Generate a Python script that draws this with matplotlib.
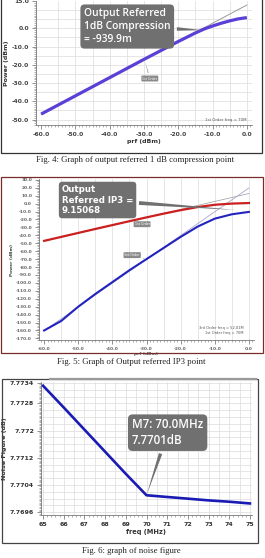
import matplotlib
matplotlib.use("Agg")
import matplotlib.pyplot as plt
from matplotlib.patches import Rectangle
from matplotlib.lines import Line2D
from matplotlib.ticker import MultipleLocator, FixedLocator, FixedFormatter

W, H = 265, 558

# Fig. 4 - output referred 1 dB compression
p1_prf = [-60, -55, -50, -45, -40, -35, -30, -25, -20, -15, -12.5, -10, -7.5, -5, -2.5, 0]
p1_out = [-47, -42, -37, -32, -27, -22, -17, -12.1, -7.2, -2.5, -0.4, 1.3, 2.8, 4.1, 5.2, 5.9]
p1_lin_prf = [-60, 0]
p1_lin_out = [-47.2, 12.8]
p1_yticks = [15, 0, -10, -20, -30, -40, -50]
p1_xticks = [-60, -50, -40, -30, -20, -10, 0]

# Fig. 5 - output referred IP3
p2_prf = [-60, -55, -50, -45, -40, -35, -30, -25, -20, -15, -10, -5, 0]
p2_fund = [-47, -42, -37, -32, -27.1, -22.2, -17.4, -12.7, -8.3, -4.4, -1.5, 0.0, 0.7]
p2_im3 = [-160, -148, -130, -114, -99, -84, -70, -56, -42, -29, -19, -13.5, -10.5]
p2_ext_prf = [-60, 0]
p2_ext1 = [-47.3, 12.7]
p2_ext3 = [-160.3, 19.7]
p2_yticks = [30, 20, 10, 0, -10, -20, -30, -40, -50, -60, -70, -80, -90, -100,
             -110, -120, -130, -140, -150, -160, -170]

# Fig. 6 - noise figure
p3_freq = [65, 66, 67, 68, 69, 70, 71, 72, 73, 74, 75]
p3_nf = [7.77332, 7.77268, 7.77203, 7.77138, 7.77073, 7.77010,
         7.77005, 7.77000, 7.76995, 7.76991, 7.76986]
p3_yticks = [7.7696, 7.7704, 7.7712, 7.7720, 7.7728, 7.7734]
p3_ylabels = ["7.7696", "7.7704", "7.7712", "7.772", "7.7728", "7.7734"]

plt.rcParams["font.family"] = ["DejaVu Sans"]
fig = plt.figure(figsize=(W / 100, H / 100), dpi=100)
fig.patch.set_facecolor("white")


def px(x0, y0, x1, y1):
    return [x0 / W, 1 - y1 / H, (x1 - x0) / W, (y1 - y0) / H]


def frame(x0, y0, x1, y1, color, lw=1.0):
    fig.add_artist(Rectangle((x0 / W, 1 - y1 / H), (x1 - x0) / W, (y1 - y0) / H,
                             transform=fig.transFigure, fill=False,
                             edgecolor=color, linewidth=lw))


def style(ax, size, color):
    for s in ["top", "right"]:
        ax.spines[s].set_visible(False)
    for s in ["left", "bottom"]:
        ax.spines[s].set_color("#777777")
        ax.spines[s].set_linewidth(0.6)
    ax.tick_params(which="major", length=3, width=0.5, color="#666666",
                   labelsize=size, labelcolor=color, pad=2)
    ax.tick_params(which="minor", length=1.6, width=0.4, color="#777777")
    ax.grid(False)
    ax.set_axisbelow(True)


def callout(ax, text, xy, xytext, size, weight="bold", family=None, lw=0.3):
    kw = {}
    if family:
        kw["family"] = family
    ax.annotate(text, xy=xy, xytext=xytext, ha="left", va="center",
                fontsize=size, color="white", fontweight=weight,
                linespacing=1.25, zorder=6,
                bbox=dict(boxstyle="round,pad=0.35,rounding_size=0.4",
                          fc="#707070", ec="none"),
                arrowprops=dict(arrowstyle="wedge,tail_width=%.2f" % lw,
                                fc="#707070", ec="none", shrinkB=0), **kw)


def tag(ax, text, xy, xytext):
    ax.annotate(text, xy=xy, xytext=xytext, ha="center", va="center",
                fontsize=2.3, color="white", zorder=6,
                bbox=dict(boxstyle="round,pad=0.3", fc="#8a8a8a", ec="none"),
                arrowprops=dict(arrowstyle="wedge,tail_width=0.25",
                                fc="#8a8a8a", ec="none", shrinkB=0))


# ---------- panel 1 ----------
ax1 = fig.add_axes(px(36, 1, 252, 125))
ax1.plot(p1_lin_prf, p1_lin_out, color="#8c8c8c", lw=0.6, zorder=3)
ax1.plot(p1_prf, p1_out, color="#5b3fd6", lw=2.3, zorder=4, solid_capstyle="butt")
ax1.set_xlim(-61.5, 1.5)
ax1.set_ylim(-53, 15)
ax1.xaxis.set_major_locator(FixedLocator(p1_xticks))
ax1.yaxis.set_major_locator(FixedLocator(p1_yticks))
ax1.xaxis.set_major_formatter(FixedFormatter(["%.1f" % v for v in p1_xticks]))
ax1.yaxis.set_major_formatter(FixedFormatter(["%.1f" % v for v in p1_yticks]))
ax1.xaxis.set_minor_locator(MultipleLocator(1))
ax1.yaxis.set_minor_locator(MultipleLocator(1))
style(ax1, 4.3, "#444444")
for v in range(-55, 15, 5):
    ax1.axvline(v, color="#dcdcdc", lw=0.5, zorder=0)
for v in range(-50, 15, 5):
    ax1.axhline(v, color="#dcdcdc", lw=0.5, zorder=0)
for lab in ax1.get_xticklabels() + ax1.get_yticklabels():
    lab.set_fontweight("bold")
ax1.set_xlabel("prf (dBm)", fontsize=4.5, fontweight="bold", color="#333333", labelpad=1.5)
ax1.set_ylabel("Power (dBm)", fontsize=4.5, fontweight="bold", color="#333333", labelpad=2)
callout(ax1, "Output Referred\n1dB Compression\n= -939.9m", (-13, -1.0), (-47.5, 1.0),
        7.4, weight="semibold", family="Open Sans", lw=0.35)
tag(ax1, "1st Order", (-29.7, -18.2), (-28.3, -27.5))
ax1.text(0, -50.5, "1st Order freq = 70M", ha="right", va="center",
         fontsize=2.8, color="#555555")
frame(1, -5, 262, 153, "#333333", 0.9)

# ---------- panel 2 ----------
ax2 = fig.add_axes(px(39, 179, 254, 340))
ax2.plot(p2_ext_prf, p2_ext1, color="#9a9a9a", lw=0.5, zorder=3)
ax2.plot(p2_ext_prf, p2_ext3, color="#a8a8c8", lw=0.6, zorder=3)
ax2.plot(p2_prf, p2_fund, color="#cc1f1f", lw=1.6, zorder=4)
ax2.plot(p2_prf, p2_im3, color="#2323c0", lw=1.5, zorder=4)
ax2.set_xlim(-61.5, 1.5)
ax2.set_ylim(-172, 31)
ax2.xaxis.set_major_locator(FixedLocator(p1_xticks))
ax2.yaxis.set_major_locator(FixedLocator(p2_yticks))
ax2.xaxis.set_major_formatter(FixedFormatter(["%.1f" % v for v in p1_xticks]))
ax2.yaxis.set_major_formatter(FixedFormatter(["%.1f" % v for v in p2_yticks]))
ax2.xaxis.set_minor_locator(MultipleLocator(1))
ax2.yaxis.set_minor_locator(MultipleLocator(2))
style(ax2, 3.2, "#666666")
for v in range(-55, 5, 5):
    ax2.axvline(v, color="#dcdcdc", lw=0.5, zorder=0)
for lab in ax2.get_xticklabels() + ax2.get_yticklabels():
    lab.set_fontweight("bold")
ax2.set_xlabel("prf (dBm)", fontsize=3.2, fontweight="bold", color="#555555", labelpad=1)
ax2.set_ylabel("Power (dBm)", fontsize=3.2, fontweight="bold", color="#444444", labelpad=1.5)
callout(ax2, "Output\nReferred IP3 =\n9.15068", (-4, -8), (-54.8, 4.5),
        6.2, weight="bold", lw=0.45)
tag(ax2, "1st Order", (-33, -20.5), (-31.3, -26))
tag(ax2, "3rd Order", (-30.5, -70), (-34.2, -65))
ax2.text(-1.5, -157, "3rd Order freq = 52.01M", ha="right", va="center",
         fontsize=2.6, color="#555555")
ax2.text(-1.5, -163.5, "1st Order freq = 70M", ha="right", va="center",
         fontsize=2.6, color="#555555")
frame(1, 177, 263, 353, "#7a2c2c", 0.9)

# ---------- panel 3 ----------
ax3 = fig.add_axes(px(41, 382, 252, 515))
ax3.plot(p3_freq, p3_nf, color="#1a1ab4", lw=1.9, zorder=4)
ax3.set_xlim(64.9, 75.1)
ax3.set_ylim(7.76952, 7.77343)
ax3.xaxis.set_major_locator(MultipleLocator(1))
ax3.yaxis.set_major_locator(FixedLocator(p3_yticks))
ax3.yaxis.set_major_formatter(FixedFormatter(p3_ylabels))
ax3.xaxis.set_minor_locator(MultipleLocator(0.2))
ax3.yaxis.set_minor_locator(MultipleLocator(0.00004))
style(ax3, 4.5, "#333333")
for v in [65 + 0.5 * i for i in range(21)]:
    ax3.axvline(v, color="#dcdcdc", lw=0.5, zorder=0)
for i in range(20):
    ax3.axhline(7.7696 + 0.0002 * i, color="#dcdcdc", lw=0.5, zorder=0)
for lab in ax3.get_xticklabels() + ax3.get_yticklabels():
    lab.set_fontweight("bold")
ax3.set_xlabel("freq (MHz)", fontsize=4.8, fontweight="bold", color="#333333", labelpad=1.5)
ax3.set_ylabel("Noise Figure (dB)", fontsize=4.6, fontweight="bold", color="#333333")
ax3.yaxis.set_label_coords(-0.16, 0.5)
callout(ax3, "M7: 70.0MHz\n7.7701dB", (70, 7.7701), (69.3, 7.77194),
        8.3, weight="semibold", family="Open Sans", lw=0.3)
frame(2, 379, 258, 543, "#444444", 0.9)
fig.add_artist(Line2D([50 / W, 256 / W], [1 - 379 / H, 1 - 379 / H],
                      transform=fig.transFigure, color="#9a9a9a", lw=1.6))

# captions
cap = dict(ha="center", va="center", fontsize=6.3, family="Liberation Serif", color="#222222")
fig.text(135 / W, 1 - 160 / H, "Fig. 4: Graph of output referred 1 dB compression point", **cap)
fig.text(131 / W, 1 - 362 / H, "Fig. 5: Graph of Output referred IP3 point", **cap)
fig.text(131 / W, 1 - 551 / H, "Fig. 6: graph of noise figure", **cap)

fig.savefig("out.png", dpi=100, facecolor="white")
